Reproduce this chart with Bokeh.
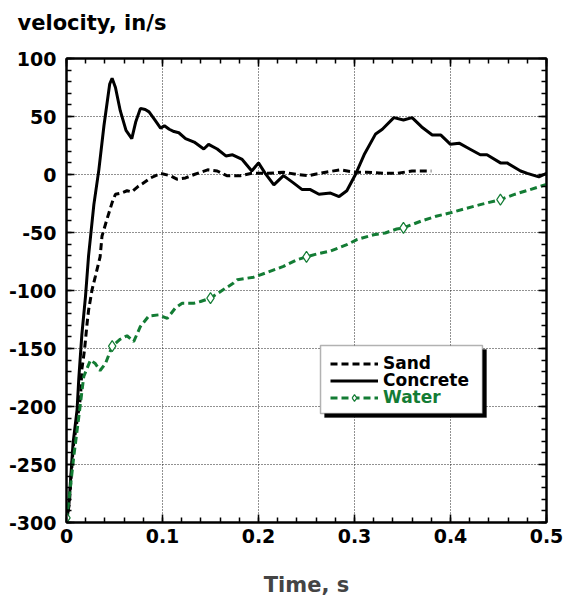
from bokeh.plotting import figure
from bokeh.models import (Legend, LegendItem, Label, BoxAnnotation, LinearAxis,
                          SingleIntervalTicker, NumeralTickFormatter, Range1d,
                          CustomJSTickFormatter)
from bokeh.embed import file_html
from bokeh.resources import INLINE

# ---------------- data ----------------
t_concrete = [0, 0.0025, 0.0068, 0.011, 0.0128, 0.016, 0.0198, 0.023, 0.0285, 0.0337,
              0.039, 0.045, 0.0475, 0.051, 0.056, 0.062, 0.068, 0.072, 0.077, 0.082,
              0.086, 0.092, 0.098, 0.102, 0.107, 0.112, 0.117, 0.124, 0.133, 0.143,
              0.148, 0.157, 0.166, 0.173, 0.183, 0.193, 0.2, 0.207, 0.216, 0.226,
              0.236, 0.2455, 0.254, 0.263, 0.275, 0.284, 0.292, 0.301, 0.310, 0.322,
              0.329, 0.341, 0.351, 0.360, 0.370, 0.381, 0.390, 0.400, 0.409, 0.420,
              0.431, 0.438, 0.452, 0.459, 0.473, 0.480, 0.492, 0.5]
v_concrete = [-300, -285, -232, -203, -176, -138, -105, -70, -26, 4,
              42, 78, 83, 75, 55, 38, 31, 45, 57, 56,
              54, 47, 40, 42, 39, 37, 36, 31, 28, 22,
              26, 22, 16, 17, 13, 3, 10, 1, -9, -1,
              -7, -13, -13, -17, -16, -19, -14, 0, 17, 35,
              39, 49, 47, 49, 41, 34, 34, 26, 27, 22,
              17, 17, 10, 10, 3, 1, -2, 1]

t_sand = [0, 0.003, 0.007, 0.0146, 0.016, 0.0188, 0.0215, 0.023, 0.0267, 0.030,
          0.035, 0.037, 0.042, 0.0476, 0.051, 0.057, 0.063, 0.068, 0.075, 0.079,
          0.0875, 0.098, 0.108, 0.115, 0.124, 0.133, 0.147, 0.157, 0.167, 0.181,
          0.193, 0.21, 0.226, 0.24, 0.252, 0.27, 0.285, 0.30, 0.313, 0.33,
          0.344, 0.36, 0.38]
v_sand = [-300, -283, -235, -192, -168, -151, -128, -117, -99, -88,
          -71, -53, -39, -24, -17, -16, -14, -15, -10, -8,
          -3, 1, -1, -4, -3, 0, 4, 3, -1, -1,
          1, 1, 2, 0, -1, 2, 4, 2, 2, 1,
          1, 3, 3]

t_water = [0, 0.004, 0.0076, 0.0128, 0.018, 0.025, 0.030, 0.035, 0.0406, 0.0476,
           0.056, 0.063, 0.070, 0.077, 0.0857, 0.096, 0.105, 0.1135, 0.1205, 0.1326,
           0.1396, 0.150, 0.162, 0.174, 0.178, 0.195, 0.209, 0.226, 0.240, 0.250,
           0.261, 0.275, 0.292, 0.303, 0.320, 0.332, 0.344, 0.351, 0.370, 0.385,
           0.400, 0.415, 0.431, 0.452, 0.466, 0.483, 0.5]
v_water = [-298, -270, -243, -209, -174, -160, -163, -169, -163, -148,
           -142, -139, -144, -131, -122, -121, -124, -115, -111, -111,
           -109.5, -106.6, -100, -93.6, -90.7, -88.5, -84.4, -79.2, -73.5, -71,
           -68.5, -66, -60.5, -56, -51.9, -50.4, -47, -46, -40, -36,
           -33, -29.5, -26, -21.6, -17.3, -13, -8.6]

t_water_marks = [0, 0.0476, 0.150, 0.250, 0.351, 0.452]
v_water_marks = [-296, -148, -106.6, -71, -46, -21.6]

x_range = (0, 0.5)
y_range = (-300, 100)

GREEN = "#137c34"
FONT = "DejaVu Sans"

p = figure(frame_width=480, frame_height=464,
           min_border_left=66, min_border_right=18, min_border_top=58, min_border_bottom=78,
           x_range=Range1d(*x_range), y_range=Range1d(*y_range),
           output_backend="svg", toolbar_location=None,
           x_axis_location=None, y_axis_location=None,
           background_fill_color="white", border_fill_color="white")
p.outline_line_color = "black"
p.outline_line_width = 2

# axes
xt = SingleIntervalTicker(interval=0.1, num_minor_ticks=5)
yt = SingleIntervalTicker(interval=50, num_minor_ticks=5)

def style(ax, labels):
    ax.axis_line_color = "black"
    ax.axis_line_width = 2
    ax.major_tick_in = 8
    ax.major_tick_out = 0
    ax.minor_tick_in = 5
    ax.minor_tick_out = 0
    ax.major_tick_line_width = 1.5
    ax.minor_tick_line_width = 1.5
    ax.major_tick_line_color = "black"
    ax.minor_tick_line_color = "black"
    if labels:
        ax.major_label_text_font = FONT
        ax.major_label_text_font_style = "bold"
        ax.major_label_text_font_size = "19px"
        ax.major_label_text_color = "black"
    else:
        ax.formatter = CustomJSTickFormatter(code="return ''")
        ax.major_label_text_font_size = "1px"
        ax.major_label_standoff = 0

bx = LinearAxis(ticker=xt, formatter=NumeralTickFormatter(format="0.[0]"))
style(bx, True)
bx.major_label_standoff = 6
bx.axis_label = "Time, s"
bx.axis_label_text_font = FONT
bx.axis_label_text_font_style = "bold"
bx.axis_label_text_font_size = "21px"
bx.axis_label_standoff = 27
p.add_layout(bx, "below")

ly = LinearAxis(ticker=yt, formatter=NumeralTickFormatter(format="0"))
style(ly, True)
ly.major_label_standoff = 10
p.add_layout(ly, "left")

tx = LinearAxis(ticker=SingleIntervalTicker(interval=0.1, num_minor_ticks=5))
style(tx, False)
p.add_layout(tx, "above")
ry = LinearAxis(ticker=SingleIntervalTicker(interval=50, num_minor_ticks=5))
style(ry, False)
p.add_layout(ry, "right")

# y-axis title at the top-left of the canvas
p.add_layout(Label(x=17, y=22, x_units="canvas", y_units="canvas",
                   text="velocity, in/s", text_font=FONT, text_font_style="bold",
                   text_font_size="21px", text_baseline="alphabetic",
                   text_align="left", text_color="black"), "above")

p.xgrid.ticker = xt
p.ygrid.ticker = yt
for g in (p.xgrid, p.ygrid):
    g.grid_line_color = "#222222"
    g.grid_line_dash = "1 2"
    g.grid_line_width = 1

# series
r_sand = p.line(t_sand, v_sand, line_color="black", line_width=3, line_dash="7 4")
r_conc = p.line(t_concrete, v_concrete, line_color="black", line_width=3)
r_water = p.line(t_water, v_water, line_color=GREEN, line_width=3, line_dash="7 4")
r_wm = p.scatter(t_water_marks, v_water_marks, marker="diamond", size=11,
                 line_color=GREEN, fill_color="white", line_width=1.2)

# legend box with shadow
p.add_layout(BoxAnnotation(left=0.2688, right=0.4375, top=-150.8, bottom=-209.5,
                           fill_color="black", fill_alpha=1, line_color="black",
                           level="overlay"))
p.add_layout(BoxAnnotation(left=0.2646, right=0.4333, top=-147.4, bottom=-206,
                           fill_color="white", fill_alpha=1, line_color="black",
                           line_width=1.5, level="overlay"))

def mk_legend(item, loc, color):
    return Legend(items=[item], location=loc, orientation="vertical",
                  background_fill_alpha=0, border_line_alpha=0,
                  padding=0, margin=0, spacing=0,
                  glyph_width=48, glyph_height=17, label_height=17,
                  label_standoff=5,
                  label_text_font=FONT, label_text_font_style="bold",
                  label_text_font_size="17px", label_text_color=color)

p.add_layout(mk_legend(LegendItem(label="Sand", renderers=[r_sand]), (264, 149), "black"), "center")
p.add_layout(mk_legend(LegendItem(label="Concrete", renderers=[r_conc]), (264, 132), "black"), "center")
p.add_layout(mk_legend(LegendItem(label="Water", renderers=[r_water, r_wm]), (264, 115), GREEN), "center")

open("out.html", "w").write(file_html(p, INLINE))
